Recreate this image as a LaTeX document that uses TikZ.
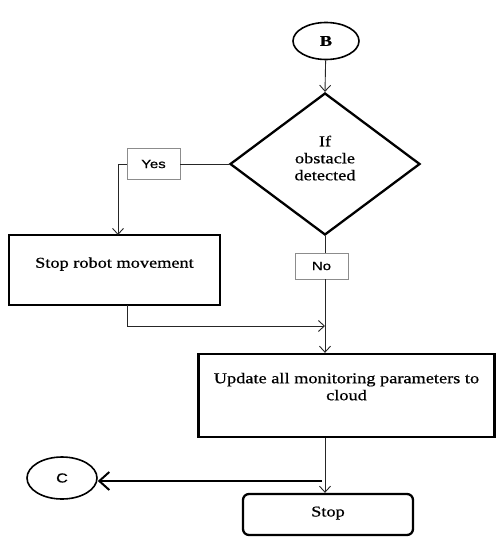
\documentclass[tikz,border=0pt]{standalone}
\usepackage{fontspec}
\setmainfont{Liberation Serif}[FakeStretch=1.22,FakeBold=0.6]
\newfontfamily\lblfont{Liberation Sans}[FakeStretch=1.25,FakeBold=0.8]
\usetikzlibrary{shapes.geometric,arrows.meta}
\begin{document}
\begin{tikzpicture}[x=1pt,y=-1pt,
  conn/.style={draw=black!85,line width=0.9pt},
  arr/.style={conn,-{Straight Barb[length=6pt,width=11pt,line width=0.9pt]}},
  thickbox/.style={draw=black,line width=2.3pt,rectangle,inner sep=2pt,font=\fontsize{15}{17}\selectfont,fill=white},
  lbl/.style={draw=black!45,line width=0.9pt,rectangle,fill=white,inner sep=0pt,font=\lblfont\fontsize{12}{14}\selectfont},
  term/.style={draw=black,line width=1.6pt,ellipse,inner sep=0pt}]
\useasboundingbox (0,0) rectangle (496,537);
% nodes
\node[term,minimum width=66pt,minimum height=37pt,font=\fontsize{15}{17}\selectfont\bfseries] (B) at (326,41) {B};
\node[draw=black,line width=2.3pt,diamond,inner sep=0pt,minimum width=190pt,minimum height=142pt,align=center,font=\fontsize{15}{17}\selectfont,text depth=12pt] (dec) at (325,164) {If\\obstacle\\detected};
\node[lbl,minimum width=53pt,minimum height=31pt] (yes) at (153.5,164) {Yes};
\node[thickbox,minimum width=211pt,minimum height=70pt,text depth=15pt] (robot) at (114.5,270) {Stop robot movement};
\node[lbl,minimum width=53pt,minimum height=26pt] (no) at (321.5,266) {No};
\node[thickbox,minimum width=296pt,minimum height=83pt,align=center,text depth=18pt] (upd) at (346.5,395.5) {Update all monitoring parameters to\\cloud};
\node[thickbox,rounded corners=6pt,minimum width=170pt,minimum height=41pt,text depth=6pt] (stop) at (328,514.5) {Stop};
\node[term,minimum width=70pt,minimum height=42pt,font=\lblfont\fontsize{13}{15}\selectfont] (C) at (62,478) {C};
% coordinates
\coordinate (ya) at (118,235);
\coordinate (m) at (325,326);
\coordinate (cj) at (322,481);
\coordinate (rb) at (127,305);
% connectors
\draw[arr] (B) -- (dec.north);
\draw[conn] (dec.west) -- (yes.east);
\draw[arr] (yes.west) -| (ya);
\draw[conn] (dec.south) -- (dec.south |- no.north);
\draw[arr] (dec.south |- no.south) -- (dec.south |- upd.north);
\draw[arr] (rb) |- (m);
\draw[arr] (dec.south |- upd.south) -- (dec.south |- stop.north);
\draw[line width=2.2pt,-{Straight Barb[length=10pt,width=18pt,line width=2pt]}] (cj) -- (cj -| C.east);
\end{tikzpicture}
\end{document}
